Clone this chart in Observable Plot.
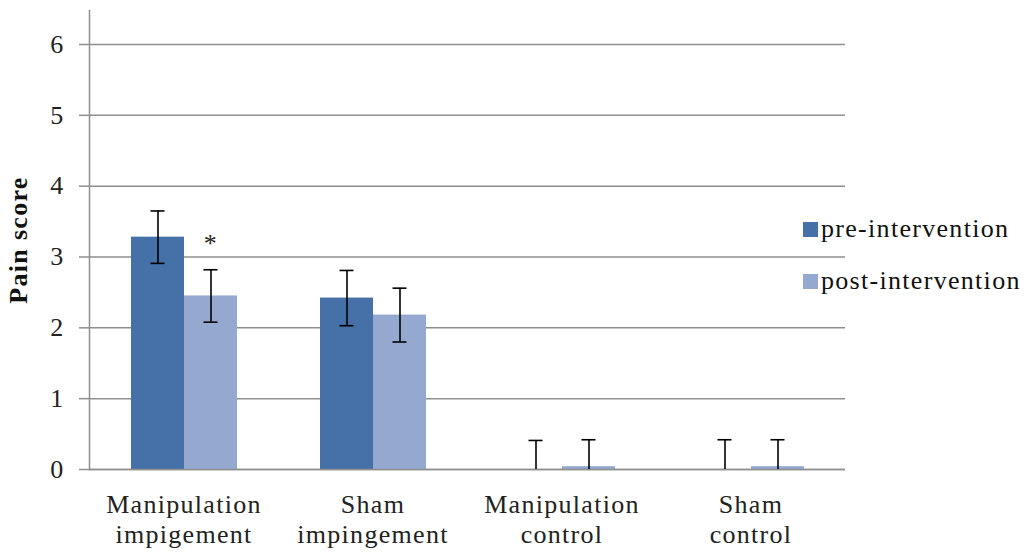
<!DOCTYPE html>
<html>
<head>
<meta charset="utf-8">
<script src="https://cdn.jsdelivr.net/npm/d3@7"></script>
<script src="https://cdn.jsdelivr.net/npm/@observablehq/plot@0.6"></script>
<style>
  body { margin: 0; background: #fff; }
  #wrap { position: relative; width: 1026px; height: 555px; font-family: "Liberation Serif", "Times New Roman", serif; }
  #legend { position: absolute; left: 803px; top: 203px; }
  .row { display: flex; align-items: center; height: 52px; }
  .sw { width: 15px; height: 15px; margin-right: 3px; }
  .lab { font-size: 26px; letter-spacing: 1.3px; color: #111; }
</style>
</head>
<body>
<div id="wrap">
  <div id="chart"></div>
  <div id="legend"></div>
</div>
<script>
// ---- data ----
const groups = ["Manipulation\nimpigement", "Sham\nimpingement", "Manipulation\ncontrol", "Sham\ncontrol"];
const series = ["pre-intervention", "post-intervention"];
const preValues = [3.28, 2.42, 0, 0];
const postValues = [2.45, 2.18, 0.04, 0.04];
const preErrors = [0.37, 0.39, 0.41, 0.42];
const postErrors = [0.37, 0.38, 0.38, 0.38];
const postMarks = ["*", "", "", ""];
const yTicks = [0, 1, 2, 3, 4, 5, 6];
const colors = ["#4671a8", "#95a8d0"];

// ---- table ----
const rows = [];
groups.forEach((g, i) => {
  rows.push({group: g, series: series[0], value: preValues[i], err: preErrors[i], mark: ""});
  rows.push({group: g, series: series[1], value: postValues[i], err: postErrors[i], mark: postMarks[i]});
});
rows.forEach(d => { d.hi = d.value + d.err; d.lo = Math.max(0, d.value - d.err); });

const gray = "#8f8f8f";
const font = '"Liberation Serif", "Times New Roman", serif';

const chart = Plot.plot({
  width: 1026,
  height: 555,
  marginLeft: 88,
  marginRight: 180,
  marginTop: 10,
  marginBottom: 86,
  style: { fontFamily: font, fontSize: "26px", background: "white", color: "black", letterSpacing: "1.3px" },
  fx: { domain: groups, padding: 0, label: null, axis: null },
  x: { domain: series, paddingInner: 0, paddingOuter: 0.755, axis: null },
  y: { domain: [0, 6.48], axis: null },
  color: { domain: series, range: colors },
  marks: [
    Plot.gridY(yTicks, { stroke: gray, strokeOpacity: 1, strokeWidth: 1.5 }),
    Plot.barY(rows, { fx: "group", x: "series", y: "value", fill: "series" }),
    Plot.ruleY([0], { stroke: gray, strokeWidth: 1.5 }),
    Plot.frame({ anchor: "left", facetAnchor: "left", stroke: gray, strokeWidth: 1.5 }),
    Plot.ruleX(rows, { fx: "group", x: "series", y1: "lo", y2: "hi", stroke: "black", strokeWidth: 1.6 }),
    Plot.tickY(rows, { fx: "group", x: "series", y: "hi", insetLeft: 19.5, insetRight: 19.5, stroke: "black", strokeWidth: 1.6 }),
    Plot.tickY(rows.filter(d => d.value - d.err >= 0), { fx: "group", x: "series", y: "lo", insetLeft: 19.5, insetRight: 19.5, stroke: "black", strokeWidth: 1.6 }),
    Plot.text(rows.filter(d => d.mark), { fx: "group", x: "series", y: "hi", text: "mark", dy: -26, fontSize: 26, fill: "#222" }),
    Plot.axisY(yTicks, { tickSize: 10, tickPadding: 15, tickFormat: d => String(d), stroke: gray, strokeWidth: 1.5, fill: "#222", label: null, fontSize: 26 }),
    Plot.axisY({ ticks: [], label: "Pain score", labelAnchor: "center", labelArrow: "none", labelOffset: 81, fontWeight: "bold", fontSize: 26, fill: "#111" }),
    Plot.axisFx({ anchor: "bottom", tickSize: 0, tickPadding: 22, lineHeight: 1.15, fontSize: 26, fill: "#222", label: null })
  ]
});
document.getElementById("chart").appendChild(chart);

// ---- legend ----
const legend = document.getElementById("legend");
series.forEach((s, i) => {
  const row = document.createElement("div");
  row.className = "row";
  const sw = document.createElement("div");
  sw.className = "sw";
  sw.style.background = colors[i];
  const lab = document.createElement("span");
  lab.className = "lab";
  lab.textContent = s;
  row.appendChild(sw);
  row.appendChild(lab);
  legend.appendChild(row);
});
</script>
</body>
</html>
